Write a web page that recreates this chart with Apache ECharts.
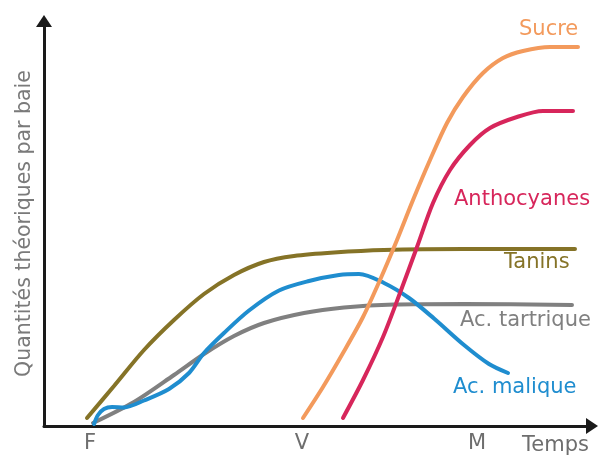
<!DOCTYPE html>
<html style="height: 100%">
<head>
    <meta charset="UTF-8">
    <script src="https://cdn.jsdelivr.net/npm/echarts@6/dist/echarts.min.js"></script>
    <style type="text/css">
        html, body { margin: 0; padding: 0; background: #ffffff; }
    </style>
</head>
<body>
    <div id="paint" style="width: 598px; height: 459px;"></div>
<script>
    // x = temps (unités arbitraires), y = quantité par baie (unités arbitraires)
    var tanins = [[43,8],[70,40],[100,76],[130,106],[160,132],[190,151],[220,164],[250,170],[290,173.5],[340,176],[420,177],[531,177]];
    var tartrique = [[49,3],[90,24],[130,51],[160,72],[190,90],[220,103],[260,113],[300,118.5],[350,121.5],[420,122],[528,121]];
    var malique = [[50,2],[54,11],[60,17],[68,19],[80,18.5],[100,25.5],[125,37],[145,53],[160,73],[180,93],[205,115.5],[235,135.5],[265,145],[295,151],[315,152],[340,143],[365,128],[390,107.5],[420,81],[445,62],[464,53]];
    var sucre = [[259,8],[279,39],[299,73],[319,109],[336,146],[353,186],[369,226],[386,266],[403,303],[419,329],[439,353],[459,368],[479,375],[506,379],[534,379]];
    var anthocyanes = [[299,8],[319,46],[339,89],[356,133],[373,179],[389,223],[406,256],[426,281],[446,298],[473,309],[499,315],[529,315]];

    var xTickValues = [46, 258, 433];
    var xTickLabels = ['F', 'V', 'M'];

    var colors = {
        sucre: '#f39a5c',
        anthocyanes: '#d7265b',
        tanins: '#857327',
        tartrique: '#808080',
        malique: '#1f8dcf'
    };

    var font = '"DejaVu Sans", Verdana, sans-serif';

    function ligne(name, data, color) {
        return {
            name: name,
            type: 'line',
            data: data,
            smooth: 0.3,
            showSymbol: false,
            lineStyle: { color: color, width: 4, cap: 'round' },
            z: 3
        };
    }

    function etiquette(text, x, y, color) {
        return {
            type: 'text',
            style: {
                text: text, x: x, y: y,
                fill: color,
                font: '21px ' + font,
                textAlign: 'left',
                textVerticalAlign: 'middle'
            }
        };
    }

    var chart = echarts.init(document.getElementById('paint'));
    chart.setOption({
        backgroundColor: '#ffffff',
        animation: false,
        grid: { left: 44, right: 6, top: 21, bottom: 33 },
        xAxis: {
            type: 'value',
            min: 0, max: 548,
            splitLine: { show: false },
            axisLine: {
                show: true,
                symbol: ['none', 'triangle'],
                symbolSize: [16, 12],
                lineStyle: { color: '#1a1a1a', width: 3 }
            },
            axisTick: { show: false },
            axisLabel: {
                customValues: xTickValues,
                formatter: function (v) {
                    var i = xTickValues.indexOf(v);
                    return i >= 0 ? xTickLabels[i] : '';
                },
                color: '#6e6e6e',
                fontSize: 21,
                fontFamily: font,
                margin: 7
            }
        },
        yAxis: {
            type: 'value',
            min: 0, max: 405,
            splitLine: { show: false },
            axisLine: {
                show: true,
                symbol: ['none', 'triangle'],
                symbolSize: [16, 12],
                lineStyle: { color: '#1a1a1a', width: 3 }
            },
            axisTick: { show: false },
            axisLabel: { show: false },
            name: 'Quantités théoriques par baie',
            nameLocation: 'middle',
            nameRotate: 90,
            nameGap: 9,
            nameTextStyle: { color: '#7a7a7a', fontSize: 20.5, fontFamily: font }
        },
        graphic: [
            etiquette('Sucre', 519, 30, colors.sucre),
            etiquette('Anthocyanes', 454, 200, colors.anthocyanes),
            etiquette('Tanins', 504, 263, colors.tanins),
            etiquette('Ac. tartrique', 460, 321, colors.tartrique),
            etiquette('Ac. malique', 453, 388, colors.malique),
            etiquette('Temps', 522, 446, '#6e6e6e')
        ],
        series: [
            ligne('Tanins', tanins, colors.tanins),
            ligne('Ac. tartrique', tartrique, colors.tartrique),
            ligne('Ac. malique', malique, colors.malique),
            ligne('Sucre', sucre, colors.sucre),
            ligne('Anthocyanes', anthocyanes, colors.anthocyanes)
        ]
    });
</script>
</body>
</html>
